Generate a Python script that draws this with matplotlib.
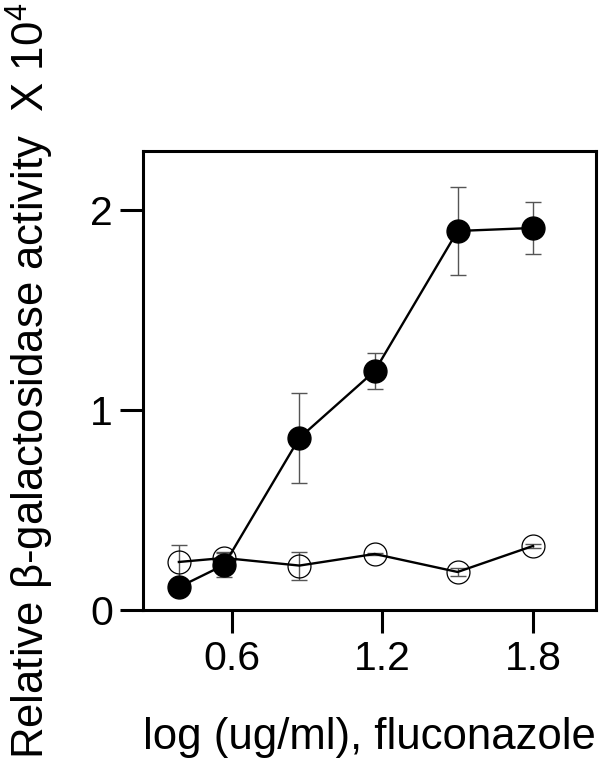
import matplotlib
matplotlib.use("Agg")
import matplotlib.pyplot as plt

plt.rcParams['font.family'] = ['Liberation Sans', 'DejaVu Sans']
plt.rcParams['mathtext.fontset'] = 'custom'
plt.rcParams['mathtext.rm'] = 'Liberation Sans'
plt.rcParams['mathtext.it'] = 'Liberation Sans'

# data
log_conc = [0.39, 0.57, 0.87, 1.17, 1.50, 1.80]
filled_vals = [0.114, 0.225, 0.86, 1.195, 1.895, 1.91]
filled_err = [0.02, 0.058, 0.225, 0.09, 0.22, 0.13]
open_vals = [0.24, 0.26, 0.222, 0.28, 0.19, 0.32]
open_err = [0.085, 0.03, 0.07, 0.005, 0.02, 0.01]
x_ticks = [0.6, 1.2, 1.8]
x_ticklabels = ['0.6', '1.2', '1.8']
y_ticks = [0, 1, 2]
y_ticklabels = ['0', '1', '2']

fig = plt.figure(figsize=(6, 7.66), dpi=100)
ax = fig.add_axes([0.2383, 0.2037, 0.7545, 0.5992])

ax.errorbar(log_conc, open_vals, yerr=open_err, fmt='none', ecolor='#555555',
            elinewidth=1.0, capsize=6, capthick=1.0, zorder=2)
ax.plot(log_conc, open_vals, color='black', lw=1.7, marker='o', markersize=16.5,
        markerfacecolor='none', markeredgecolor='black', markeredgewidth=0.9, zorder=3)
ax.errorbar(log_conc, filled_vals, yerr=filled_err, fmt='none', ecolor='#555555',
            elinewidth=1.0, capsize=6, capthick=1.0, zorder=4)
ax.plot(log_conc, filled_vals, color='black', lw=1.7, marker='o', markersize=16.5,
        markerfacecolor='black', markeredgecolor='black', zorder=5)

ax.set_xlim(0.247, 2.05)
ax.set_ylim(0, 2.295)
ax.set_xticks(x_ticks)
ax.set_xticklabels(x_ticklabels)
ax.set_yticks(y_ticks)
ax.set_yticklabels(y_ticklabels)
for s in ax.spines.values():
    s.set_linewidth(2.2)
ax.tick_params(axis='both', direction='out', length=16.5, width=2.2, labelsize=29.5, pad=5)

ax.set_xlabel('log (ug/ml), fluconazole', fontsize=31.5, labelpad=28)
fig.text(0.05, 0.503, r'Relative β-galactosidase activity  X 10$^{4}$', rotation=90,
         fontsize=31.5, ha='center', va='center')

fig.savefig('out.png', dpi=100)
